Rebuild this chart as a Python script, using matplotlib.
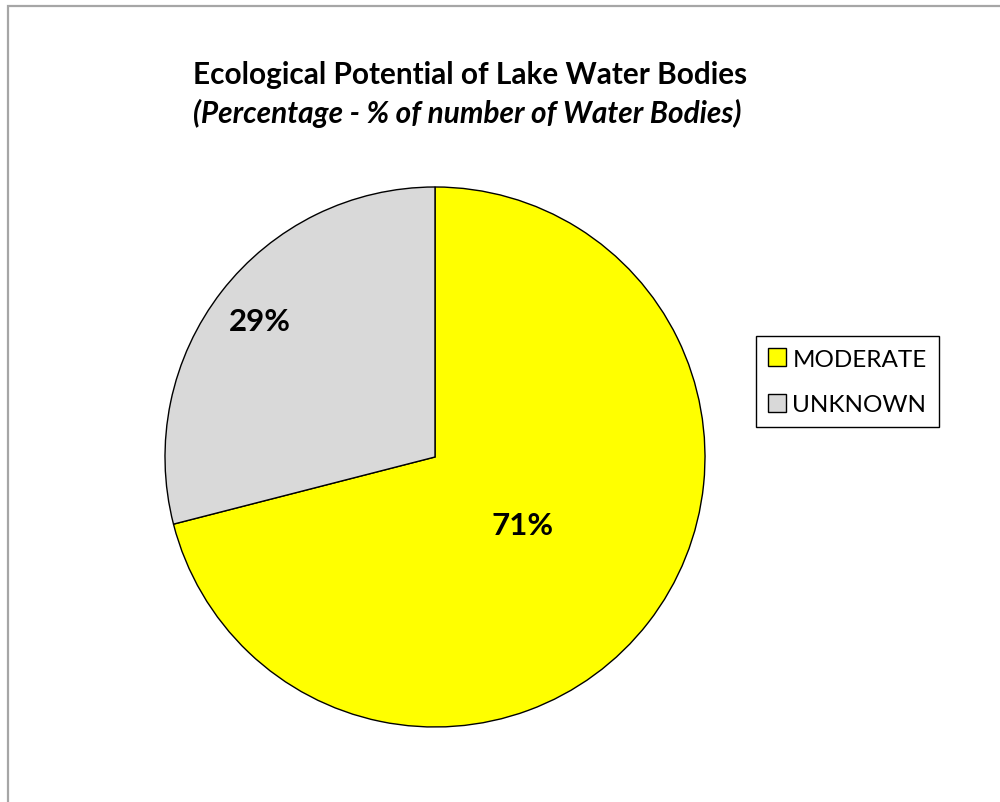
import matplotlib.pyplot as plt
from matplotlib.patches import Rectangle
import numpy as np

categories = ['MODERATE', 'UNKNOWN']
shares = [71, 29]
colors = ['#ffff00', '#d9d9d9']
label_radius = [0.41, 0.82]

plt.rcParams['font.family'] = ['Lato', 'DejaVu Sans']

fig = plt.figure(figsize=(10, 8.03), dpi=100)

# outer chart frame (only top/left edges visible in the crop)
fig.patches.append(Rectangle((0.008, -0.1), 1.1, 1.091, transform=fig.transFigure,
                             fill=False, edgecolor='#a6a6a6', linewidth=1.6))

ax = fig.add_axes([0.165, 0.0934, 0.54, 0.6725])
wedges, _ = ax.pie(shares, colors=colors, startangle=90, counterclock=False,
                   wedgeprops=dict(edgecolor='black', linewidth=1.0))
ax.set_xlim(-1.0, 1.0)
ax.set_ylim(-1.0, 1.0)
ax.set_aspect('equal')

for w, val, r in zip(wedges, shares, label_radius):
    mid = np.deg2rad((w.theta1 + w.theta2) / 2)
    ax.text(r * np.cos(mid), r * np.sin(mid), f'{val}%', ha='center', va='center',
            fontsize=22.5, fontweight='bold')

fig.text(0.4705, 0.9066, 'Ecological Potential of Lake Water Bodies', ha='center', va='center',
         fontsize=21.4, fontweight='bold')
fig.text(0.467, 0.859, '(Percentage - % of number of Water Bodies)', ha='center', va='center',
         fontsize=21.4, fontweight='bold', style='italic')

leg = fig.legend(wedges, categories, loc='upper left', bbox_to_anchor=(0.756, 1 - 337 / 803),
                 fontsize=17.5, fancybox=False, edgecolor='black', framealpha=1,
                 handlelength=0.75, handleheight=0.75, handletextpad=0.25, labelspacing=1.0,
                 borderpad=0.5, borderaxespad=0)
leg.get_frame().set_linewidth(1.0)

fig.savefig('out.png', dpi=100)
